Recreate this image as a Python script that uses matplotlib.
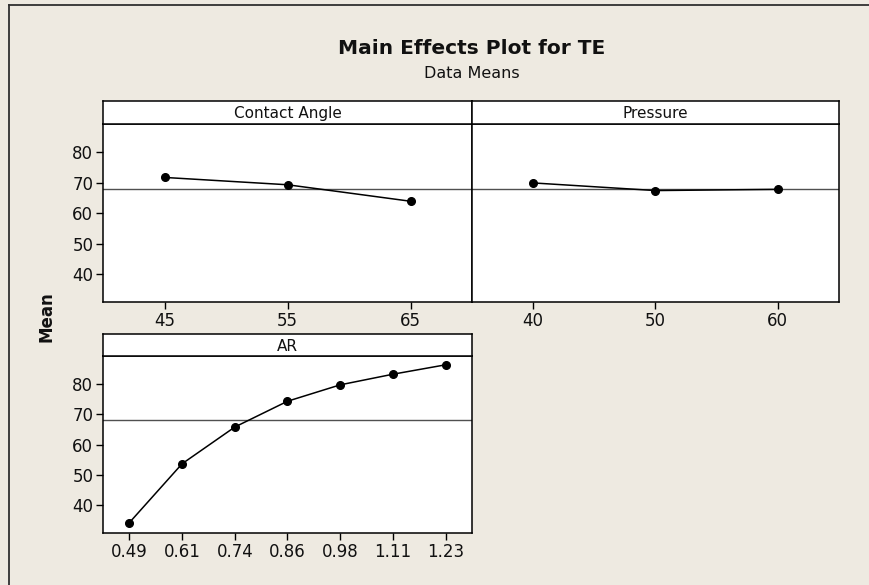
import numpy as np
import matplotlib
matplotlib.use("Agg")
import matplotlib.pyplot as plt
from matplotlib.lines import Line2D

# ─── DATA ─────────────────────────────────────────────────────────────────────
contact_levels = ["45", "55", "65"]
contact_means  = [71.7, 69.3, 63.9]

pressure_levels = ["40", "50", "60"]
pressure_means  = [69.9, 67.4, 67.8]

ar_levels = ["0.49", "0.61", "0.74", "0.86", "0.98", "1.11", "1.23"]
ar_means  = [34.3, 53.7, 65.8, 74.3, 79.7, 83.2, 86.3]

grand_mean = 68.0
y_ticks = [40, 50, 60, 70, 80]

# ─── STYLE ────────────────────────────────────────────────────────────────────
BG = "#eeeae1"
W, H = 870, 585
plt.rcParams.update({
    "font.family": "DejaVu Sans",
    "axes.linewidth": 1.1,
    "xtick.major.width": 1.0, "ytick.major.width": 1.0,
    "xtick.major.size": 5, "ytick.major.size": 5,
    "xtick.labelsize": 12, "ytick.labelsize": 12,
    "text.color": "#111111",
    "xtick.labelcolor": "#111111", "ytick.labelcolor": "#111111",
})

fig = plt.figure(figsize=(W / 100, H / 100), dpi=100, facecolor=BG)


def box(x0, y0, x1, y1):
    """pixel box (top-left origin) -> figure fraction rect"""
    return [x0 / W, 1 - y1 / H, (x1 - x0) / W, (y1 - y0) / H]


def panel(plot_box, strip_box, title, levels, means, show_y=True):
    ax = fig.add_axes(box(*plot_box))
    ax.set_facecolor("white")
    pos = np.arange(len(levels))
    ax.axhline(grand_mean, color="#505050", lw=1.0, zorder=1)
    ax.plot(pos, means, color="black", lw=1.1, marker="o", ms=5.5, zorder=3)
    ax.set_xlim(-0.5, len(levels) - 0.5)
    ax.set_ylim(30.9, 89.2)
    ax.set_xticks(pos)
    ax.set_xticklabels(levels)
    ax.tick_params(axis="x", pad=2.5)
    if show_y:
        ax.set_yticks(y_ticks)
        ax.tick_params(axis="y", pad=2)
    else:
        ax.set_yticks([])

    st = fig.add_axes(box(*strip_box))
    st.set_facecolor("white")
    st.set_xticks([])
    st.set_yticks([])
    st.text(0.5, 0.45, title, ha="center", va="center", fontsize=11,
            transform=st.transAxes)
    return ax


panel((103, 124, 472, 302), (103, 101, 472, 124), "Contact Angle",
      contact_levels, contact_means)
panel((472, 124, 839, 302), (472, 101, 839, 124), "Pressure",
      pressure_levels, pressure_means, show_y=False)
panel((103, 356, 472, 533), (103, 334, 472, 356), "AR",
      ar_levels, ar_means)

# titles
fig.text(472 / W, 1 - 48 / H, "Main Effects Plot for TE", ha="center",
         va="center", fontsize=14.5, fontweight="bold")
fig.text(472 / W, 1 - 74 / H, "Data Means", ha="center", va="center",
         fontsize=11.5)
fig.text(47 / W, 1 - 317 / H, "Mean", ha="center", va="center",
         fontsize=12, fontweight="bold", rotation=90)

# outer frame (top and left edges visible)
fig.add_artist(Line2D([9 / W, 9 / W], [0, 1 - 5 / H], color="#303030",
                      lw=1.3, transform=fig.transFigure))
fig.add_artist(Line2D([9 / W, 1], [1 - 5 / H, 1 - 5 / H], color="#303030",
                      lw=1.3, transform=fig.transFigure))

fig.savefig("out.png", dpi=100, facecolor=BG)
